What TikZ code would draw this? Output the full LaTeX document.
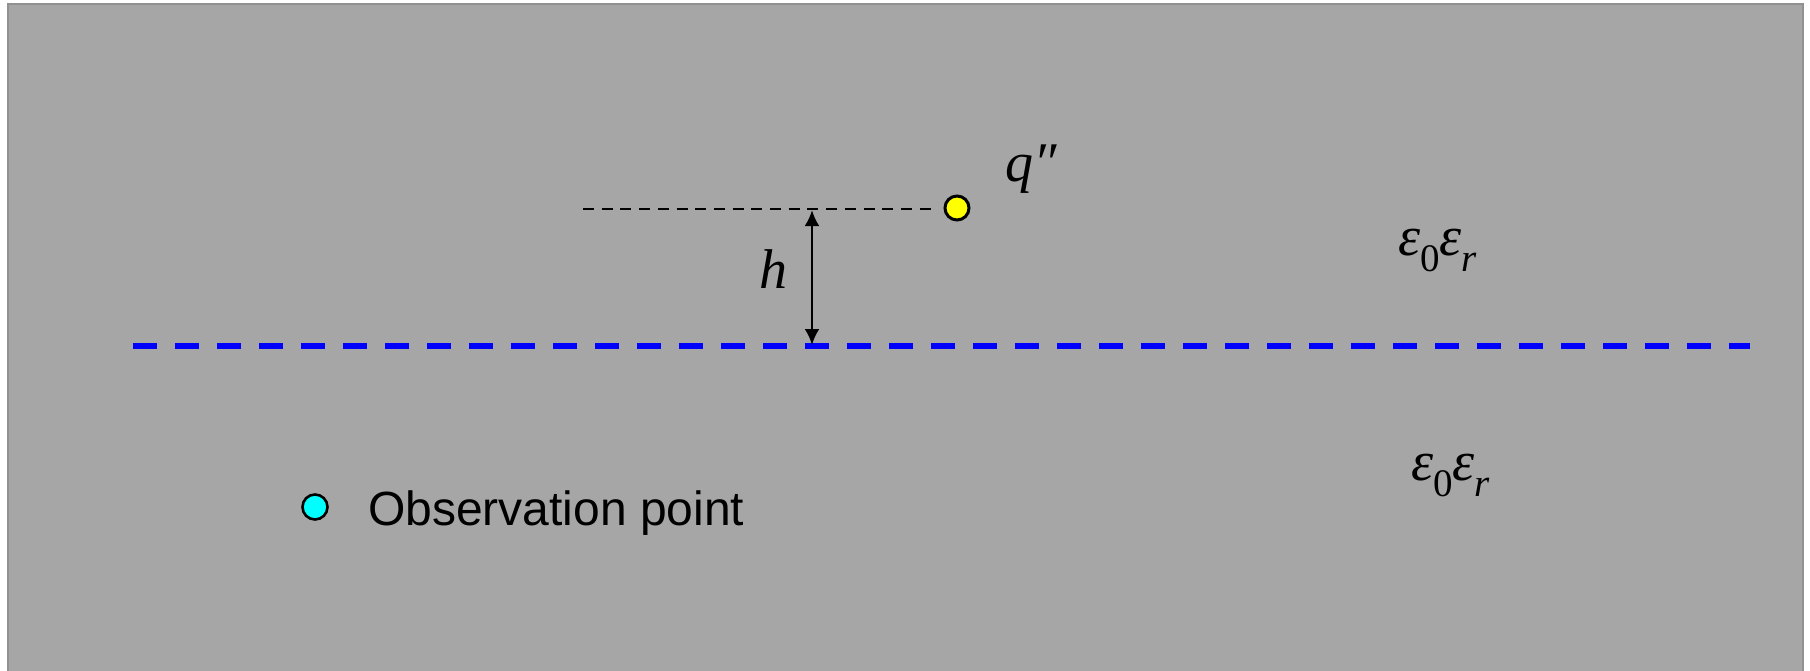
\documentclass[tikz,border=0pt]{standalone}
\usepackage{fontspec}
\setmainfont{Liberation Serif}
\newfontfamily\arialf{Liberation Sans}
\usetikzlibrary{arrows.meta}
\definecolor{bgray}{RGB}{166,166,166}
\definecolor{framegray}{RGB}{145,145,145}
\definecolor{obscyan}{RGB}{0,255,255}
\definecolor{chargeyellow}{RGB}{255,255,0}
\tikzset{
  mathlab/.style={inner sep=0pt, font=\fontsize{56}{60}\selectfont\itshape},
  dotmark/.style={circle, draw=black, line width=3pt, minimum size=24pt, inner sep=0pt},
}
\newcommand{\epsz}{ε\raisebox{-0.3em}{\fontsize{39}{40}\selectfont\upshape 0}ε\raisebox{-0.3em}{\fontsize{39}{40}\selectfont r}}
\begin{document}
\begin{tikzpicture}[x=1pt,y=-1pt]
\useasboundingbox (0,0) rectangle (1810,670);
\fill[white] (0,0) rectangle (1810,670);
\draw[framegray, line width=2pt, fill=bgray] (8,4) rectangle (1803,690);
% interface
\coordinate (bl) at (133,346);
\coordinate (br) at (1750,346);
\draw[blue, line width=5.5pt, dash pattern=on 24pt off 18pt] (bl) -- (br);
% charge and its level line
\node[dotmark, fill=chargeyellow] (q) at (957,208) {};
\coordinate (dl) at (583,209);
\coordinate (dr) at (931,209);
\draw[black, line width=2.6pt, dash pattern=on 11pt off 7.7pt] (dl) -- (dr);
\node[mathlab, anchor=base west] (qlab) at (1005,181) {q″};
% height arrow
\coordinate (at) at (812,210);
\coordinate (ab) at (812,345);
\draw[line width=2.8pt, {Latex[length=16pt,width=15pt]}-{Latex[length=16pt,width=15pt]}] (at) -- (ab);
\node[mathlab, anchor=base] (hlab) at (773,288) {h};
% permittivities
\node[mathlab, anchor=base west] (eup) at (1398,255) {\epsz};
\node[mathlab, anchor=base west] (edn) at (1411,480) {\epsz};
% observation point legend
\node[dotmark, fill=obscyan, line width=2.6pt, minimum size=25pt] (obs) at (315,507) {};
\node[anchor=base west, inner sep=0pt, font=\arialf\fontsize{48}{52}\selectfont] (obslab) at (368,525) {Observation point};
\end{tikzpicture}
\end{document}
